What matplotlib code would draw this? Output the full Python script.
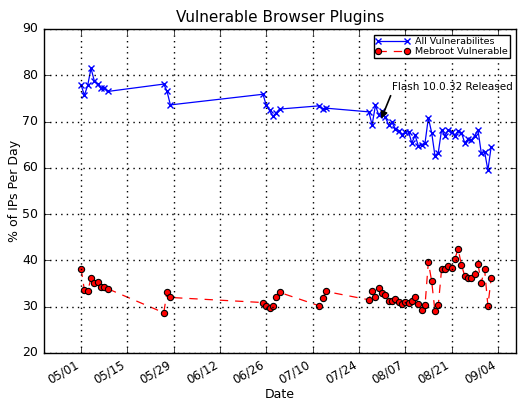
import matplotlib
matplotlib.use("Agg")
import matplotlib.pyplot as plt
import matplotlib.dates as mdates
import pandas as pd

# days the scan was run (2009)
dates = list(pd.date_range("2009-05-01", "2009-05-09")) + \
        list(pd.date_range("2009-05-26", "2009-05-28")) + \
        list(pd.date_range("2009-06-25", "2009-06-30")) + \
        list(pd.date_range("2009-07-12", "2009-07-14")) + \
        list(pd.date_range("2009-07-27", "2009-09-02"))

all_vuln = [77.9, 75.7, 77.8, 81.5, 78.8, 78.1, 77.2, 77.3, 76.5,
            78.1, 76.5, 73.6,
            75.9, 73.5, 72.4, 71.1, 71.9, 72.7,
            73.4, 72.8, 72.9,
            72.1, 69.3, 73.5, 71.4, 72.3, 70.9, 69.3, 69.8, 68.5, 68.0,
            67.2, 67.7, 67.8, 65.4, 67.0, 64.7, 65.0, 65.4, 70.8, 67.6,
            62.6, 63.3, 68.2, 66.9, 68.2, 67.8, 66.9, 68.0, 67.6, 65.4,
            66.2, 66.0, 66.9, 68.2, 63.2, 63.5, 59.5, 64.6]

mebroot = [38.2, 33.6, 33.4, 36.1, 35.1, 35.4, 34.3, 34.3, 33.9,
           28.7, 33.2, 32.0,
           30.9, 30.1, 29.7, 30.2, 32.1, 33.1,
           30.2, 31.8, 33.3,
           31.5, 33.5, 32.1, 34.1, 32.9, 32.5, 31.3, 31.3, 31.6, 31.0,
           30.6, 31.0, 30.7, 31.2, 32.2, 30.5, 29.3, 30.3, 39.7, 35.5,
           29.0, 30.3, 38.1, 38.1, 38.8, 38.4, 40.3, 42.5, 39.0, 36.7,
           36.1, 36.2, 37.1, 39.2, 35.2, 38.1, 30.2, 36.2]

tick_dates = pd.date_range("2009-05-01", "2009-09-04", freq="14D")
flash_date = pd.Timestamp("2009-07-30 18:00")

plt.style.use("classic")
fig = plt.figure(figsize=(5.18, 4.01), dpi=100)
ax = fig.add_axes([44 / 518, 1 - 353 / 401, 472 / 518, 324 / 401])

ax.plot(dates, all_vuln, "b-x", lw=0.9, ms=4.5, mew=1, label="All Vulnerabilites")
ax.plot(dates, mebroot, "r--o", lw=0.9, ms=4.5, mec="k", mew=0.8,
        dashes=(6, 5), label="Mebroot Vulnerable")

ax.annotate("Flash 10.0.32 Released", xy=(flash_date, 70.6),
            xytext=(pd.Timestamp("2009-08-03 00:00"), 76.3), fontsize=7.5,
            ha="left", va="bottom",
            arrowprops=dict(arrowstyle="-|>", color="k", lw=1.2, mutation_scale=10,
                            shrinkA=0, shrinkB=0, relpos=(0, 0)))

ax.set_xlim(pd.Timestamp("2009-04-19 19:00"), pd.Timestamp("2009-09-09 12:00"))
ax.set_ylim(20, 90)
ax.set_xticks(tick_dates)
ax.xaxis.set_major_formatter(mdates.DateFormatter("%m/%d"))
for lbl in ax.get_xticklabels():
    lbl.set_rotation(30)
    lbl.set_ha("right")
ax.tick_params(axis="y", labelsize=9)
ax.tick_params(axis="x", labelsize=8.5, pad=4)
ax.grid(True, color="k", linestyle=":", lw=1)
ax.set_title("Vulnerable Browser Plugins", fontsize=11)
ax.set_xlabel("Date", fontsize=9, labelpad=1)
ax.set_ylabel("% of IPs Per Day", fontsize=9, labelpad=1)
ax.legend(loc="upper right", fontsize=6.8, numpoints=2, handlelength=3.6,
          borderpad=0.2, labelspacing=0.1, handletextpad=0.6,
          bbox_to_anchor=(0.997, 0.995))

fig.savefig("out.png", dpi=100)
